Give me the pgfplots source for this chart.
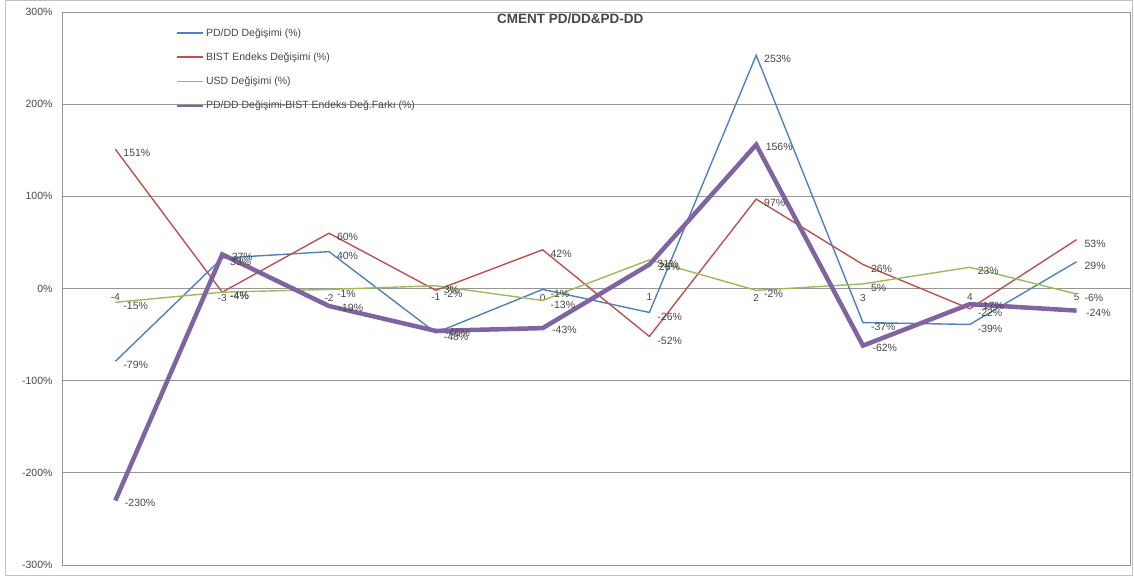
\documentclass[border=0pt]{standalone}
\usepackage{fontspec}
\setmainfont{Liberation Sans}
\usepackage{pgfplots}
\pgfplotsset{compat=1.18}

\definecolor{xblue}{RGB}{79,129,189}
\definecolor{xred}{RGB}{192,80,77}
\definecolor{xgreen}{RGB}{155,187,89}
\definecolor{xpurple}{RGB}{128,100,162}
\definecolor{xgrid}{RGB}{150,150,150}
\definecolor{xtext}{RGB}{70,70,70}

\begin{document}
\begin{tikzpicture}[x=1pt,y=1pt]
\path (0,0) rectangle (1134,577);
\draw[xgrid!60, line width=1pt] (5,1) rectangle (1132,576);
\begin{axis}[
    at={(62pt,12pt)}, anchor=south west,
    scale only axis,
    width=1068pt, height=553pt,
    xmin=-4.5, xmax=5.5,
    ymin=-300, ymax=300,
    axis x line=middle,
    axis y line=left,
    axis line style={-, draw=xgrid},
    every inner x axis line/.append style={-},
    every outer y axis line/.append style={-},
    xtick={-4,...,5},
    ytick={-300,-200,...,300},
    major tick length=0pt,
    ymajorgrids=true,
    major grid style={xgrid, line width=0.8pt},
    /pgf/number format/assume math mode=true,
    xticklabel style={font=\fontsize{10}{11}\selectfont, text=xtext, yshift=-2pt},
    yticklabel={\pgfmathprintnumber{\tick}\%},
    yticklabel style={font=\fontsize{10.5}{12}\selectfont, text=xtext, xshift=-6pt},
    clip=false,
    every axis plot/.append style={line width=1.4pt, mark=none},
    nodes near coords={\pgfmathprintnumber[fixed,precision=0]{\pgfplotspointmeta}\%},
    every node near coord/.append style={font=\fontsize{10.5}{12}\selectfont, text=xtext, anchor=west, xshift=4pt, yshift=-4pt},
    legend style={at={(0.104,0.978)}, anchor=north west, draw=none, fill=none,
        font=\fontsize{10.5}{12}\selectfont, row sep=11pt,
        legend cell align=left},
    legend image code/.code={\draw[#1, line width=1.8pt] (0pt,0pt) -- (26pt,0pt);},
]
% PD/DD Değişimi (%)
\addplot[xblue] coordinates {(-4,-79) (-3,33) (-2,40) (-1,-48) (0,-1) (1,-26) (2,253) (3,-37) (4,-39) (5,29)};
% BIST Endeks Değişimi (%)
\addplot[xred] coordinates {(-4,151) (-3,-4) (-2,60) (-1,-2) (0,42) (1,-52) (2,97) (3,26) (4,-22) (5,53)};
% USD Değişimi (%)
\addplot[xgreen] coordinates {(-4,-15) (-3,-4) (-2,-1) (-1,3) (0,-13) (1,31) (2,-2) (3,5) (4,23) (5,-6)};
% PD/DD - BIST farkı
\addplot[xpurple, line width=4.5pt, every node near coord/.append style={yshift=2pt}] coordinates {(-4,-230) (-3,37) (-2,-19) (-1,-46) (0,-43) (1,26) (2,156) (3,-62) (4,-17) (5,-24)};
\legend{\textcolor{xtext}{PD/DD Değişimi (\%)}, \textcolor{xtext}{BIST Endeks Değişimi (\%)}, \textcolor{xtext}{USD Değişimi (\%)}, \textcolor{xtext}{PD/DD Değişimi-BIST Endeks Değ.Farkı (\%)}}
\draw[xgrid, line width=0.8pt] (rel axis cs:0,0) rectangle (rel axis cs:1,1);
\node[font=\bfseries\fontsize{13.5}{15}\selectfont, text=xtext] at (rel axis cs:0.476,0.988) {CMENT PD/DD\&PD-DD};
\end{axis}
\end{tikzpicture}
\end{document}
